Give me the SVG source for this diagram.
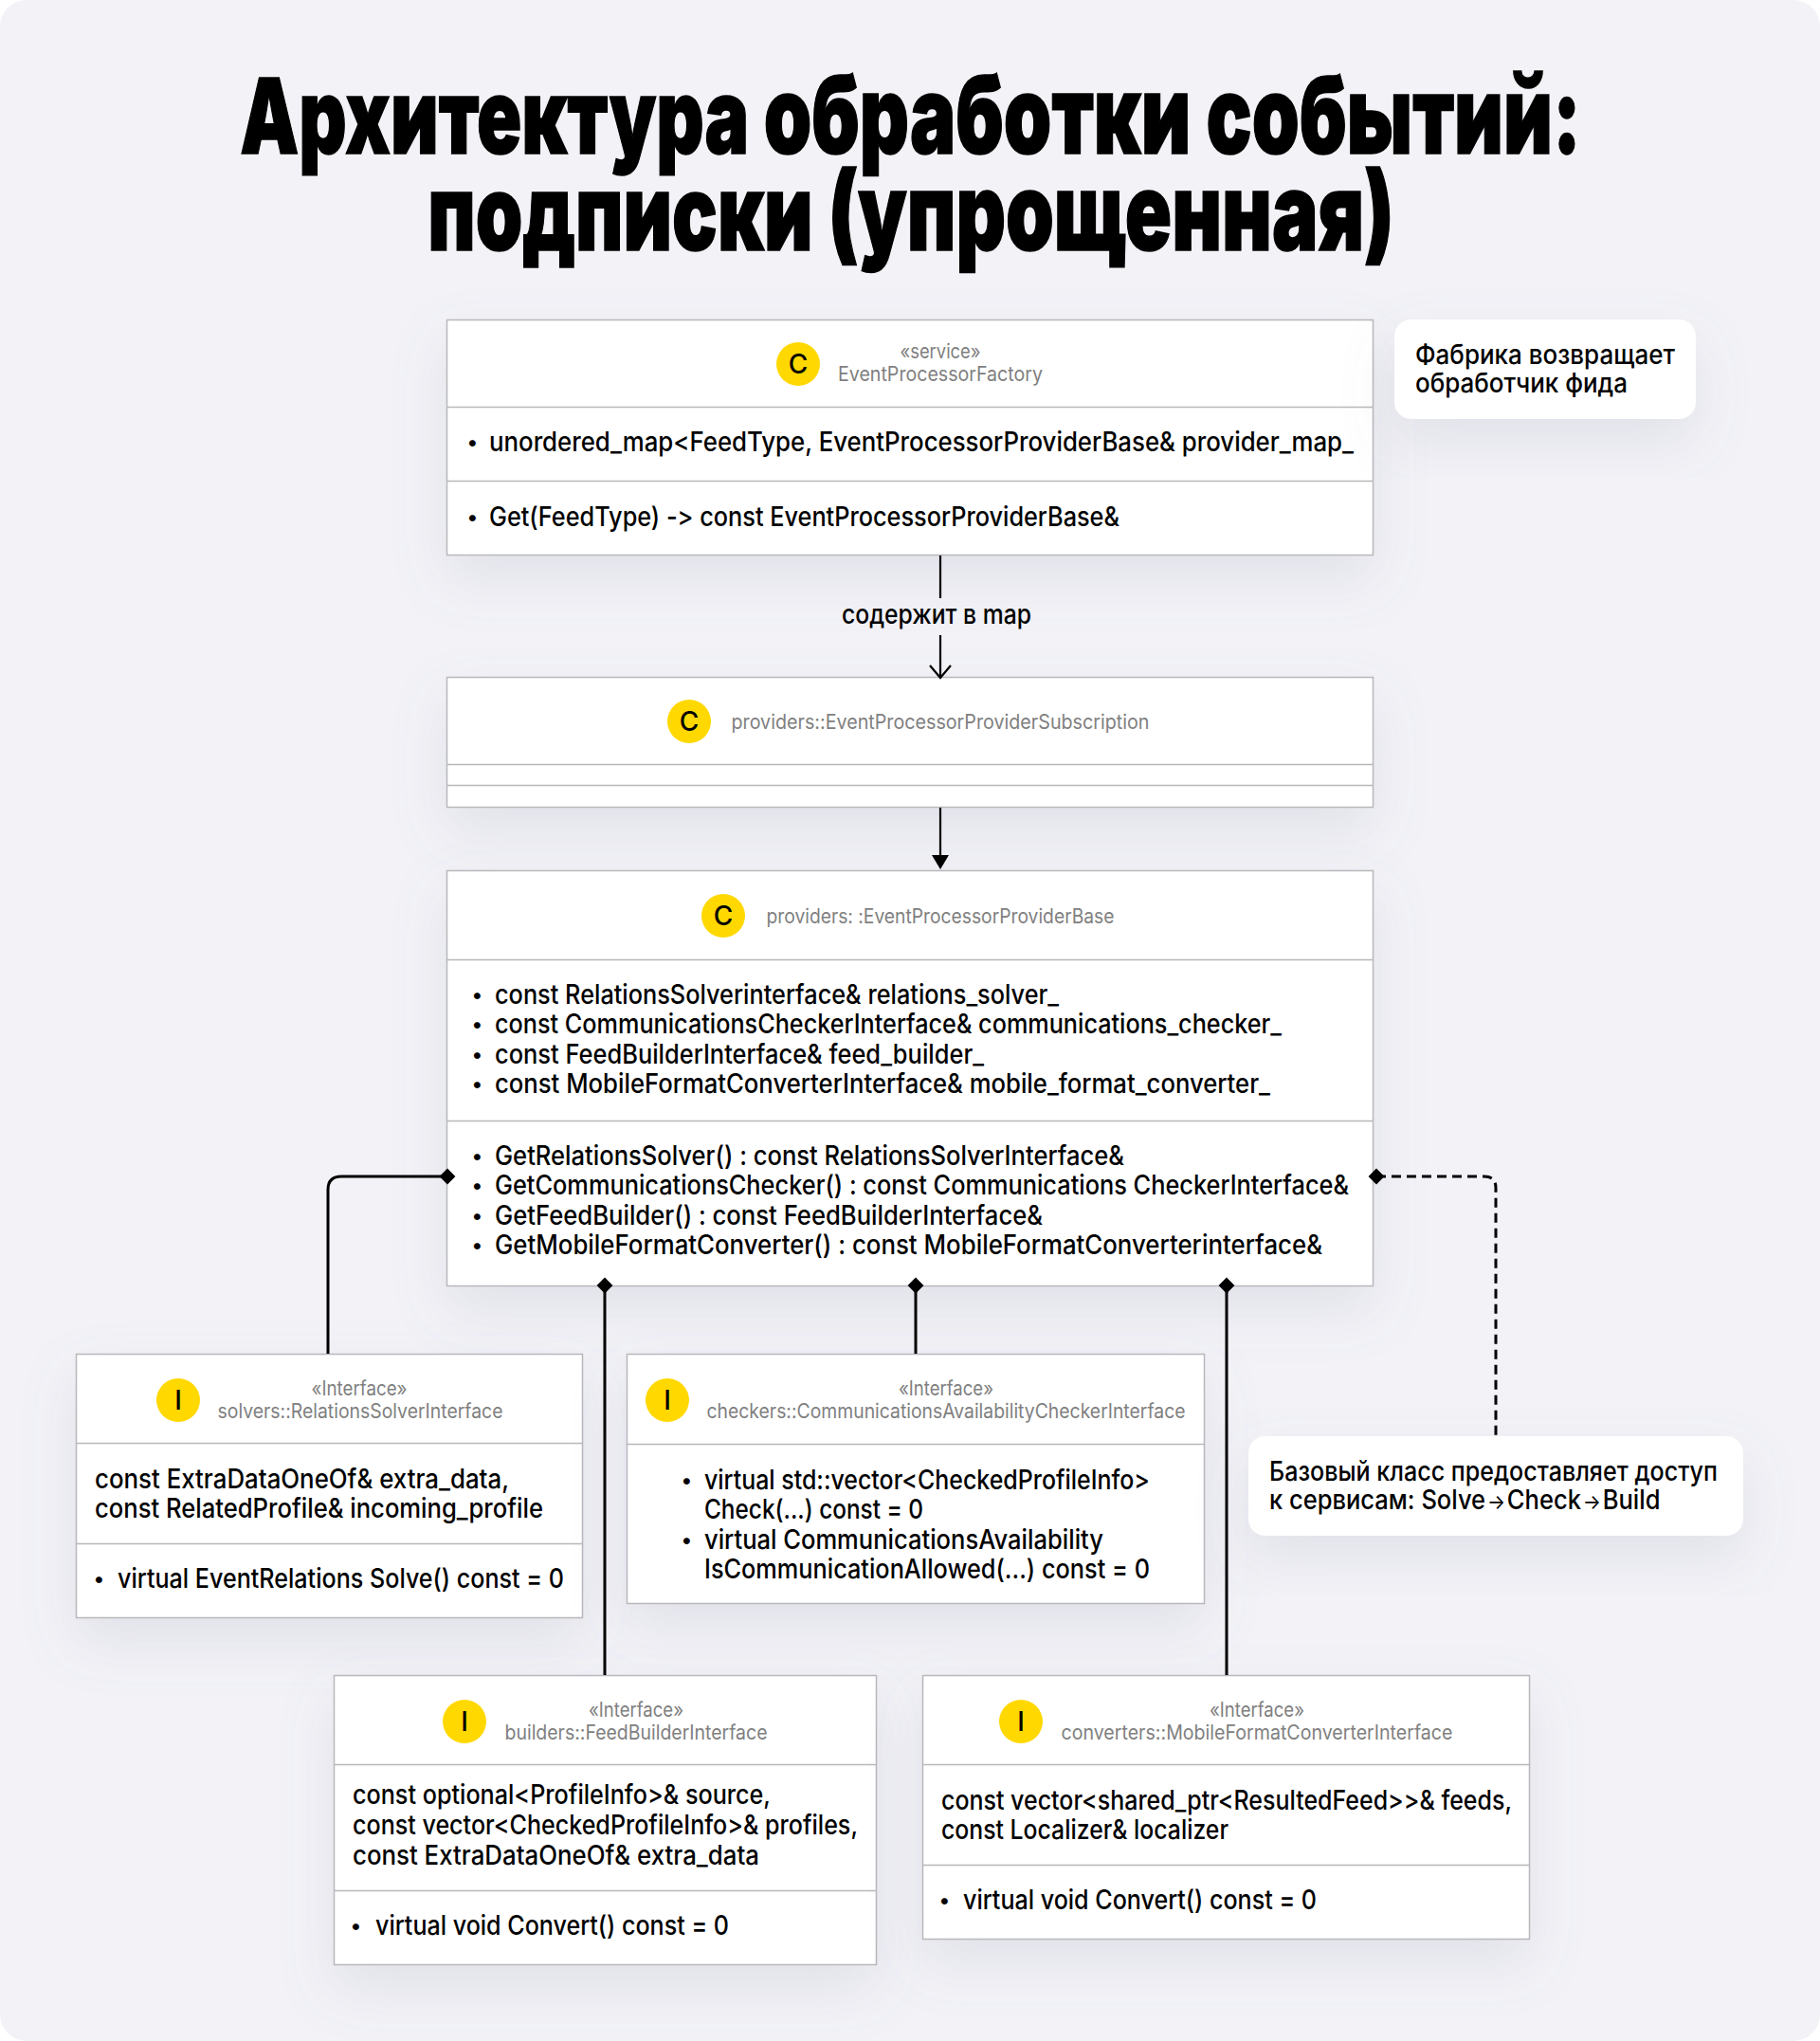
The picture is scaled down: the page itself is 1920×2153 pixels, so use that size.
<svg xmlns="http://www.w3.org/2000/svg" width="1920" height="2153" viewBox="0 0 1920 2153">
<defs>
<style>
text{font-family:"Inter","Noto Sans",sans-serif;font-weight:500;fill:#000;font-size:28px;font-variant-ligatures:none;font-feature-settings:"calt" 0,"liga" 0}
.g{fill:#808080;font-weight:400;font-size:21px;text-anchor:middle}
.t{font-weight:900;font-size:112px;stroke:#000;stroke-width:1.500;text-anchor:middle}
.b{font-size:22px}
.box{fill:#fff;stroke:#b8b8bc;stroke-width:1.5}
.div{stroke:#b8b8bc;stroke-width:1.5;fill:none}
.c{fill:#ffd800}
.l{font-size:28px;text-anchor:middle}
.conn{stroke:#000;stroke-width:3;fill:none}
.thin{stroke-width:2.2}
.note{fill:#fff}
.ar{font-size:22px;font-weight:400}
</style>
<filter id="sh" x="-25%" y="-30%" width="150%" height="190%"><feDropShadow dx="0" dy="24" stdDeviation="28" flood-color="#7c7c99" flood-opacity="0.15"/></filter>
<marker id="dia" viewBox="-10 -10 20 20" markerWidth="21" markerHeight="21" markerUnits="userSpaceOnUse" orient="auto"><path d="M-8 0L0-8 8 0 0 8z" fill="#000"/></marker>
</defs>
<rect width="1920" height="2153" fill="#fff"/>
<rect width="1920" height="2153" rx="28" fill="#f2f2f7"/>
<g id="title">
<text class="t" transform="translate(960.500 162) scale(.7069 1)"><tspan font-size="110.500">Архитектура </tspan><tspan font-size="114.500">обработки </tspan><tspan font-size="113.200">событий:</tspan></text>
<text class="t" transform="translate(961 264) scale(.7155 1)"><tspan font-size="111">подписки </tspan><tspan font-size="113.800">(упрощенная)</tspan></text>
</g>
<g id="factory">
<rect class="box" x="471.500" y="337.500" width="977" height="248" filter="url(#sh)"/>
<path class="div" d="M471 429.500H1449M471 507.500H1449"/>
<circle class="c" cx="842" cy="384" r="23"/><text class="l" x="842" y="394">C</text>
<text class="g" x="992" y="378" textLength="85" lengthAdjust="spacingAndGlyphs">«service»</text><text class="g" x="992" y="402" textLength="216" lengthAdjust="spacingAndGlyphs">EventProcessorFactory</text>
<text class="b" x="492.500" y="474">•</text><text x="516" y="476" textLength="912" lengthAdjust="spacingAndGlyphs">unordered_map&lt;FeedType, EventProcessorProviderBase&amp; provider_map_</text>
<text class="b" x="492.500" y="553">•</text><text x="516" y="555" textLength="665" lengthAdjust="spacingAndGlyphs">Get(FeedType) -&gt; const EventProcessorProviderBase&amp;</text>
</g>
<g id="subscription">
<rect class="box" x="471.500" y="714.500" width="977" height="137" filter="url(#sh)"/>
<path class="div" d="M471 806.500H1449M471 828.500H1449"/>
<circle class="c" cx="727" cy="761" r="23"/><text class="l" x="727" y="771">C</text>
<text class="g" x="992" y="769" textLength="441" lengthAdjust="spacingAndGlyphs">providers::EventProcessorProviderSubscription</text>
</g>
<g id="base">
<rect class="box" x="471.500" y="918.500" width="977" height="438" filter="url(#sh)"/>
<path class="div" d="M471 1012.500H1449M471 1182.500H1449"/>
<circle class="c" cx="763" cy="966" r="23"/><text class="l" x="763" y="976">C</text>
<text class="g" x="992" y="974" textLength="367" lengthAdjust="spacingAndGlyphs">providers: :EventProcessorProviderBase</text>
<g id="base-fields">
<text class="b" x="497.500" y="1057">•</text><text x="522" y="1059" textLength="595" lengthAdjust="spacingAndGlyphs">const RelationsSolverinterface&amp; relations_solver_</text>
<text class="b" x="497.500" y="1088">•</text><text x="522" y="1090" textLength="830" lengthAdjust="spacingAndGlyphs">const CommunicationsCheckerInterface&amp; communications_checker_</text>
<text class="b" x="497.500" y="1120">•</text><text x="522" y="1122" textLength="516" lengthAdjust="spacingAndGlyphs">const FeedBuilderInterface&amp; feed_builder_</text>
<text class="b" x="497.500" y="1151">•</text><text x="522" y="1153" textLength="818" lengthAdjust="spacingAndGlyphs">const MobileFormatConverterInterface&amp; mobile_format_converter_</text>
</g>
<g id="base-methods">
<text class="b" x="497.500" y="1227">•</text><text x="522" y="1229" textLength="664" lengthAdjust="spacingAndGlyphs">GetRelationsSolver() : const RelationsSolverInterface&amp;</text>
<text class="b" x="497.500" y="1258">•</text><text x="522" y="1260" textLength="901" lengthAdjust="spacingAndGlyphs">GetCommunicationsChecker() : const Communications CheckerInterface&amp;</text>
<text class="b" x="497.500" y="1290">•</text><text x="522" y="1292" textLength="578" lengthAdjust="spacingAndGlyphs">GetFeedBuilder() : const FeedBuilderInterface&amp;</text>
<text class="b" x="497.500" y="1321">•</text><text x="522" y="1323" textLength="873" lengthAdjust="spacingAndGlyphs">GetMobileFormatConverter() : const MobileFormatConverterinterface&amp;</text>
</g>
</g>
<g id="solvers">
<rect class="box" x="80.500" y="1428.500" width="534" height="278" filter="url(#sh)"/>
<path class="div" d="M80 1522.500H615M80 1628.500H615"/>
<circle class="c" cx="188" cy="1477" r="23"/><text class="l" x="188" y="1487">I</text>
<text class="g" x="379" y="1472" textLength="101" lengthAdjust="spacingAndGlyphs">«Interface»</text><text class="g" x="380" y="1496" textLength="301" lengthAdjust="spacingAndGlyphs">solvers::RelationsSolverInterface</text>
<text x="100" y="1570" textLength="437" lengthAdjust="spacingAndGlyphs">const ExtraDataOneOf&amp; extra_data,</text>
<text x="100" y="1601" textLength="473" lengthAdjust="spacingAndGlyphs">const RelatedProfile&amp; incoming_profile</text>
<text class="b" x="98.500" y="1673">•</text><text x="124" y="1675" textLength="471" lengthAdjust="spacingAndGlyphs">virtual EventRelations Solve() const = 0</text>
</g>
<g id="checkers">
<rect class="box" x="661.500" y="1428.500" width="609" height="263" filter="url(#sh)"/>
<path class="div" d="M661 1523.500H1271"/>
<circle class="c" cx="704" cy="1477" r="23"/><text class="l" x="704" y="1487">I</text>
<text class="g" x="998" y="1472" textLength="100" lengthAdjust="spacingAndGlyphs">«Interface»</text><text class="g" x="998" y="1496" textLength="505" lengthAdjust="spacingAndGlyphs">checkers::CommunicationsAvailabilityCheckerInterface</text>
<text class="b" x="718.500" y="1569">•</text><text x="743" y="1571" textLength="470" lengthAdjust="spacingAndGlyphs">virtual std::vector&lt;CheckedProfileInfo&gt;</text>
<text x="743" y="1602" textLength="231" lengthAdjust="spacingAndGlyphs">Check(...) const = 0</text>
<text class="b" x="718.500" y="1632">•</text><text x="743" y="1634" textLength="421" lengthAdjust="spacingAndGlyphs">virtual CommunicationsAvailability</text>
<text x="743" y="1665" textLength="470" lengthAdjust="spacingAndGlyphs">IsCommunicationAllowed(...) const = 0</text>
</g>
<g id="builders">
<rect class="box" x="352.500" y="1767.500" width="572" height="305" filter="url(#sh)"/>
<path class="div" d="M352 1861.500H925M352 1994.500H925"/>
<circle class="c" cx="490" cy="1816" r="23"/><text class="l" x="490" y="1826">I</text>
<text class="g" x="671" y="1811" textLength="100" lengthAdjust="spacingAndGlyphs">«Interface»</text><text class="g" x="671" y="1835" textLength="277" lengthAdjust="spacingAndGlyphs">builders::FeedBuilderInterface</text>
<text x="372" y="1903" textLength="441" lengthAdjust="spacingAndGlyphs">const optional&lt;ProfileInfo&gt;&amp; source,</text>
<text x="372" y="1935" textLength="533" lengthAdjust="spacingAndGlyphs">const vector&lt;CheckedProfileInfo&gt;&amp; profiles,</text>
<text x="372" y="1967" textLength="429" lengthAdjust="spacingAndGlyphs">const ExtraDataOneOf&amp; extra_data</text>
<text class="b" x="369.500" y="2039">•</text><text x="396" y="2041" textLength="373" lengthAdjust="spacingAndGlyphs">virtual void Convert() const = 0</text>
</g>
<g id="converters">
<rect class="box" x="973.500" y="1767.500" width="640" height="278" filter="url(#sh)"/>
<path class="div" d="M973 1861.500H1614M973 1967.500H1614"/>
<circle class="c" cx="1077" cy="1816" r="23"/><text class="l" x="1077" y="1826">I</text>
<text class="g" x="1326" y="1811" textLength="100" lengthAdjust="spacingAndGlyphs">«Interface»</text><text class="g" x="1326" y="1835" textLength="413" lengthAdjust="spacingAndGlyphs">converters::MobileFormatConverterInterface</text>
<text x="993" y="1909" textLength="602" lengthAdjust="spacingAndGlyphs">const vector&lt;shared_ptr&lt;ResultedFeed&gt;&gt;&amp; feeds,</text>
<text x="993" y="1940" textLength="303" lengthAdjust="spacingAndGlyphs">const Localizer&amp; localizer</text>
<text class="b" x="990.500" y="2012">•</text><text x="1016" y="2014" textLength="373" lengthAdjust="spacingAndGlyphs">virtual void Convert() const = 0</text>
</g>
<g id="note-factory">
<rect class="note" x="1471" y="337" width="318" height="105" rx="18" filter="url(#sh)"/>
<text x="1493" y="384" textLength="274" lengthAdjust="spacingAndGlyphs">Фабрика возвращает</text>
<text x="1493" y="414" textLength="224" lengthAdjust="spacingAndGlyphs">обработчик фида</text>
</g>
<g id="note-base">
<rect class="note" x="1317" y="1515" width="522" height="105" rx="18" filter="url(#sh)"/>
<text x="1339" y="1562" textLength="473" lengthAdjust="spacingAndGlyphs">Базовый класс предоставляет доступ</text>
<text transform="translate(1339 1592) scale(.912 1)">к сервисам: Solve<tspan class="ar" dx="2">→</tspan><tspan dx="2">Check</tspan><tspan class="ar" dx="2">→</tspan><tspan dx="2">Build</tspan></text>
</g>
<g id="connectors">
<path class="conn thin" d="M992 586V631M992 670V714"/>
<path class="conn thin" d="M981 702L992 715 1003 702"/>
<text class="l" x="988" y="658" textLength="200" lengthAdjust="spacingAndGlyphs">содержит в map</text>
<path class="conn thin" d="M992 852V905"/>
<path d="M983 902H1001L992 917z" fill="#000"/>
<path class="conn" marker-end="url(#dia)" d="M346 1428V1255Q346 1241 360 1241H472"/>
<path class="conn" marker-start="url(#dia)" d="M638 1356V1767"/>
<path class="conn" marker-start="url(#dia)" d="M966 1356V1428"/>
<path class="conn" marker-start="url(#dia)" d="M1294 1356V1767"/>
<path class="conn" marker-start="url(#dia)" stroke-dasharray="10 6" d="M1452 1241H1566Q1578 1241 1578 1253V1515"/>
</g>
</svg>
